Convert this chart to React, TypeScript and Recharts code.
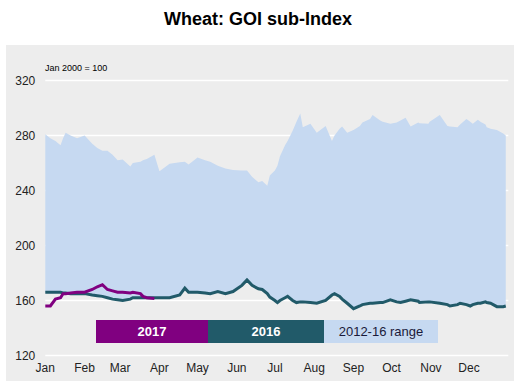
import { ComposedChart, Area, Line, XAxis, YAxis, CartesianGrid } from "recharts";

// day of year for each sample
const days = [
  0, 4, 8, 12, 14, 16, 20, 25, 31, 37, 41, 45, 49, 53, 57, 61, 67, 69, 75, 77, 80, 86,
  90, 98, 106, 110, 113, 120, 126, 130, 136, 142, 148, 155, 159, 163, 168, 171, 175, 177,
  181, 183, 185, 189, 191, 195, 198, 201, 203, 209, 214, 221, 226, 228, 232, 234, 238, 243,
  248, 250, 256, 258, 264, 266, 272, 277, 280, 284, 288, 294, 295, 302, 303, 311, 317, 319,
  325, 327, 332, 335, 337, 341, 343, 347, 348, 351, 356, 361, 363,
];

// top of the 2012-16 range
const rangeHigh = [
  281, 278, 276, 273, 278, 282, 280, 278, 280, 274, 271, 269, 269, 266, 262, 262.5, 257.5, 260, 261, 262, 263, 266,
  254, 259.5, 260.5, 261, 259, 264, 262, 261, 258, 256, 255, 254.5, 254.5, 250, 246, 247, 243.5, 251,
  254.5, 258, 265, 273, 276, 283.5, 290, 296, 286, 288.5, 282, 287, 276, 280, 285, 286.5, 282, 284,
  287, 289.5, 292, 295, 291, 290, 288.5, 289.5, 291, 293, 286.5, 289.5, 289, 288.5, 290, 295, 287, 286.5,
  286, 288, 292, 290, 288.5, 291.5, 290, 288, 286, 285, 284, 281.5, 280,
];

// 2016 (also the bottom of the range)
const wheat2016 = [
  166, 166, 166, 166, 165.5, 165.5, 165, 165, 165, 164, 163.5, 163, 162, 161, 160.5, 160, 161, 162, 162, 162, 162, 162,
  162, 162, 164, 169, 166, 166, 165.5, 165, 166.5, 165, 166.5, 171, 175, 171, 168.5, 168, 165, 162.5,
  160, 158.5, 160, 162, 163, 160, 158.5, 159, 159, 158.5, 158, 160, 164, 165, 163, 161, 158, 154,
  156, 157, 158, 158, 158.5, 158.5, 160.5, 159, 158.5, 159.5, 160.5, 159.5, 158.5, 159, 159, 158, 157, 156,
  157, 158, 157, 156, 157, 158, 158, 159, 158.5, 158, 155.5, 155.5, 156,
];

// 2017 so far
const wheat2017 = [
  156, 156, 161, 162, 165, 165, 165.5, 166, 166, 168, 170, 171.5, 168, 167, 166, 166, 165.5, 166, 165, 163, 162, 161.5,
];

const monthStarts = [0, 31, 59, 90, 120, 151, 181, 212, 243, 273, 304, 334];
const monthNames = ["Jan", "Feb", "Mar", "Apr", "May", "Jun", "Jul", "Aug", "Sep", "Oct", "Nov", "Dec"];
const yTicks = [120, 160, 200, 240, 280, 320];

const chartData = days.map((day, i) => ({
  day,
  range: [wheat2016[i], rangeHigh[i]],
  y2016: wheat2016[i],
  y2017: i < wheat2017.length ? wheat2017[i] : null,
}));

const FONT = "'Liberation Sans', Arial, sans-serif";

export default function App() {
  return (
    <div style={{ position: "absolute", left: 0, top: 0, width: 516, height: 390, background: "#fff", fontFamily: FONT }}>
      <div style={{ position: "absolute", left: 0, top: 9, width: 516, textAlign: "center", fontSize: 18, fontWeight: "bold", color: "#000" }}>
        Wheat: GOI sub-Index
      </div>
      <div style={{ position: "absolute", left: 6, top: 45, width: 508, height: 336, background: "#ededed" }} />
      <div style={{ position: "absolute", left: 45, top: 63, fontSize: 9, color: "#000" }}>Jan 2000 = 100</div>

      <div style={{ position: "absolute", left: 0, top: 0 }}>
        <ComposedChart width={516} height={390} data={chartData} margin={{ top: 80.5, right: 7.7, bottom: 4.5, left: 5.3 }}>
          <CartesianGrid horizontal vertical={false} stroke="#ffffff" strokeWidth={1.5} />
          <XAxis
            dataKey="day"
            type="number"
            domain={[0, 365]}
            ticks={monthStarts}
            tickFormatter={(v: number) => monthNames[monthStarts.indexOf(v)]}
            axisLine={false}
            tickLine={false}
            interval={0}
            height={30}
            tick={{ fontSize: 12, fill: "#222", fontFamily: FONT }}
          />
          <YAxis
            domain={[120, 320]}
            ticks={yTicks}
            axisLine={false}
            tickLine={false}
            width={40}
            tickMargin={4}
            tick={{ fontSize: 12, fill: "#222", fontFamily: FONT }}
          />
          <Area dataKey="range" type="linear" fill="#c6d9f1" fillOpacity={1} stroke="none" isAnimationActive={false} />
          <Line dataKey="y2016" type="linear" stroke="#215a69" strokeWidth={3} dot={false} isAnimationActive={false} />
          <Line dataKey="y2017" type="linear" stroke="#800080" strokeWidth={3} dot={false} isAnimationActive={false} />
        </ComposedChart>
      </div>

      <div style={{ position: "absolute", left: 96, top: 320, width: 112, height: 23, background: "#800080", color: "#fff", fontWeight: "bold", fontSize: 13, lineHeight: "23px", textAlign: "center" }}>
        2017
      </div>
      <div style={{ position: "absolute", left: 208, top: 320, width: 116, height: 23, background: "#215a69", color: "#fff", fontWeight: "bold", fontSize: 13, lineHeight: "23px", textAlign: "center" }}>
        2016
      </div>
      <div style={{ position: "absolute", left: 324, top: 320, width: 114, height: 23, background: "#c6d9f1", color: "#1a1a3a", fontSize: 13, lineHeight: "23px", textAlign: "center" }}>
        2012-16 range
      </div>
    </div>
  );
}
